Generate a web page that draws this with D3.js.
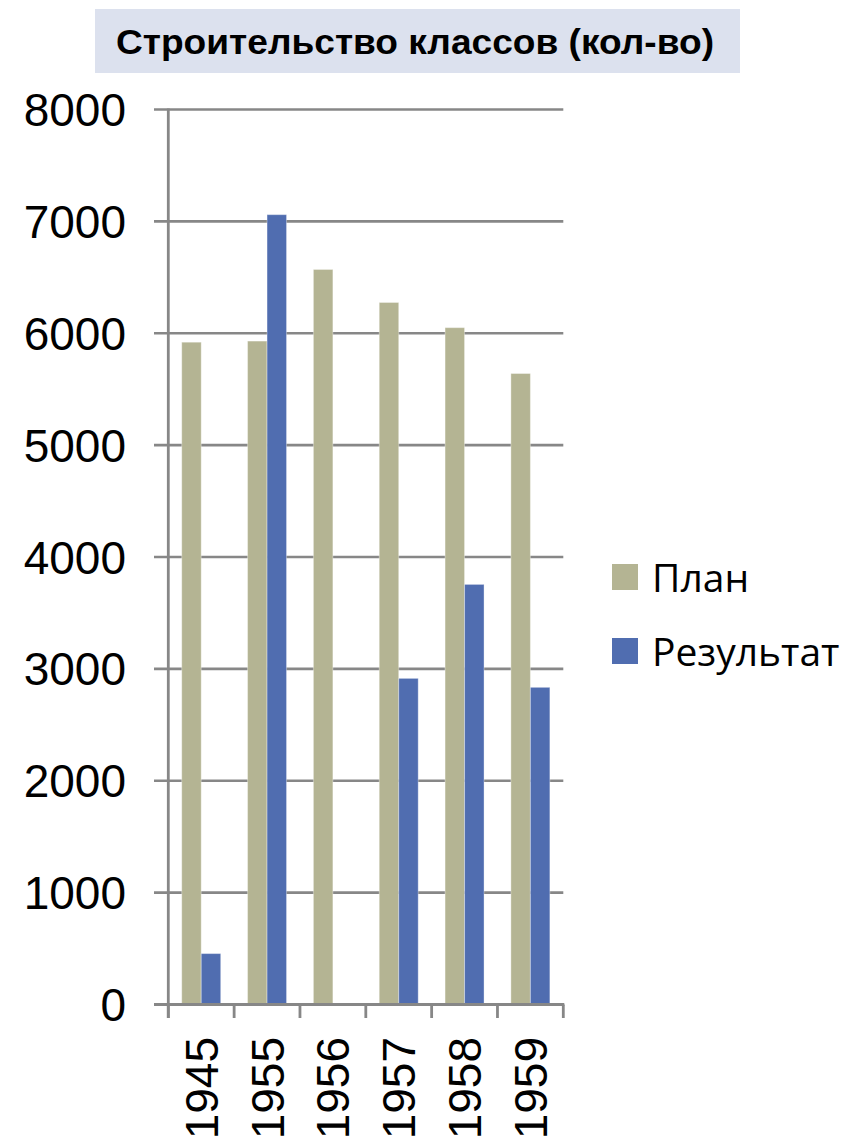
<!DOCTYPE html>
<html>
<head>
<meta charset="utf-8">
<script src="https://cdn.jsdelivr.net/npm/d3@7"></script>
<style>
  html, body { margin: 0; padding: 0; background: #ffffff; }
  svg { display: block; }
</style>
</head>
<body>
<svg id="chart" width="847" height="1138"></svg>
<script>
const titleText = "Строительство классов (кол-во)";
const categories = ["1945", "1955", "1956", "1957", "1958", "1959"];
const seriesNames = ["План", "Результат"];
const planValues = [5920, 5930, 6570, 6275, 6050, 5640];
const resultValues = [455, 7060, 0, 2915, 3755, 2835];
const yTicks = [0, 1000, 2000, 3000, 4000, 5000, 6000, 7000, 8000];
const colors = ["#b4b493", "#506db0"];

const svg = d3.select("#chart");
const W = 847, H = 1138;
svg.append("rect").attr("width", W).attr("height", H).attr("fill", "#fff");

// Title box
svg.append("rect").attr("x", 95).attr("y", 9).attr("width", 645).attr("height", 64).attr("fill", "#dce1ee");
svg.append("text")
  .attr("x", 116).attr("y", 54)
  .attr("font-family", "'Liberation Sans', Arial, sans-serif")
  .attr("font-weight", "bold")
  .attr("font-size", 35)
  .attr("textLength", 598)
  .attr("lengthAdjust", "spacingAndGlyphs")
  .attr("fill", "#000")
  .text(titleText);

const plotLeft = 168.3, plotRight = 563.3, plotTop = 109.5, plotBottom = 1004.5;
const y = d3.scaleLinear().domain([0, 8000]).range([plotBottom, plotTop]);
const x0 = d3.scaleBand().domain(categories).range([plotLeft, plotRight]).paddingInner(0).paddingOuter(0);
const bw = x0.bandwidth();
const x1 = d3.scaleBand().domain(seriesNames).range([bw * 0.204, bw * 0.796]).padding(0);

const gridColor = "#878787";

// Gridlines
svg.append("g").selectAll("line").data(yTicks).join("line")
  .attr("x1", 154).attr("x2", plotRight)
  .attr("y1", d => y(d)).attr("y2", d => y(d))
  .attr("stroke", gridColor).attr("stroke-width", 2.6);

// Y tick labels
svg.append("g").selectAll("text").data(yTicks).join("text")
  .attr("x", 126).attr("y", d => y(d)).attr("dy", "0.36em")
  .attr("text-anchor", "end")
  .attr("font-family", "'Liberation Sans', Arial, sans-serif")
  .attr("font-size", 46).attr("fill", "#000")
  .text(d => d);

// Bars
const data = categories.map((c, i) => ({ cat: c, vals: [planValues[i], resultValues[i]] }));
const groups = svg.append("g").selectAll("g").data(data).join("g")
  .attr("transform", d => `translate(${x0(d.cat)},0)`);
groups.selectAll("rect").data(d => d.vals.map((v, j) => ({ v, s: seriesNames[j], j })))
  .join("rect")
  .attr("x", d => x1(d.s))
  .attr("width", x1.bandwidth())
  .attr("y", d => y(d.v))
  .attr("height", d => plotBottom - y(d.v))
  .attr("fill", d => colors[d.j])
  .attr("stroke", "rgba(255,255,255,0.35)")
  .attr("stroke-width", 1);

// Y axis line
svg.append("line").attr("x1", plotLeft).attr("x2", plotLeft).attr("y1", plotTop - 1).attr("y2", 1018)
  .attr("stroke", gridColor).attr("stroke-width", 2.8);
// X axis baseline
svg.append("line").attr("x1", 154).attr("x2", plotRight + 1).attr("y1", plotBottom).attr("y2", plotBottom)
  .attr("stroke", gridColor).attr("stroke-width", 2.8);
// X ticks at band boundaries
const boundaries = categories.map(c => x0(c)).concat([plotRight]);
svg.append("g").selectAll("line").data(boundaries).join("line")
  .attr("x1", d => d).attr("x2", d => d).attr("y1", plotBottom).attr("y2", 1018)
  .attr("stroke", gridColor).attr("stroke-width", 2.8);

// X labels (rotated)
svg.append("g").selectAll("text").data(categories).join("text")
  .attr("transform", d => `translate(${x0(d) + bw / 2},1037) rotate(-90)`)
  .attr("dy", "0.36em")
  .attr("text-anchor", "end")
  .attr("font-family", "'Liberation Sans', Arial, sans-serif")
  .attr("font-size", 46).attr("fill", "#000")
  .text(d => d);

// Legend
const legY = [564, 638];
const leg = svg.append("g").selectAll("g").data(seriesNames).join("g")
  .attr("transform", (d, i) => `translate(612,${legY[i]})`);
leg.append("rect").attr("width", 26).attr("height", 26).attr("fill", (d, i) => colors[i]);
leg.append("text")
  .attr("x", 40).attr("y", 28)
  .attr("font-family", "'Open Sans', 'Noto Sans', sans-serif")
  .attr("font-size", 39).attr("fill", "#000")
  .text(d => d);
</script>
</body>
</html>
